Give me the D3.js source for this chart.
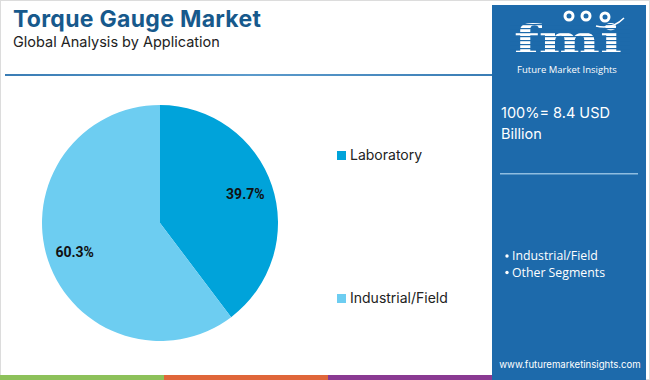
<!DOCTYPE html>
<html>
<head>
<meta charset="UTF-8">
<script src="https://d3js.org/d3.v7.min.js"></script>
<style>
  body { margin: 0; background: #fff; overflow: hidden; }
  svg { display: block; }
</style>
</head>
<body>
<svg id="chart" width="650" height="380"></svg>
<script>
const categories = ["Laboratory", "Industrial/Field"];
const shares = [39.7, 60.3];
const sliceColors = ["#00a3da", "#6dcdf1"];
const panelBullets = ["Industrial/Field", "Other Segments"];
const totalText = ["100%= 8.4 USD", "Billion"];
const stripeColors = ["#8dc15a", "#e0663a", "#8a3a92"];

const width = 650, height = 380;
const panelBlue = "#1d6aab";
const svg = d3.select("#chart");

// frame
svg.append("rect").attr("x", 0.5).attr("y", 0.5).attr("width", width - 1).attr("height", height - 1)
  .attr("fill", "#fff").attr("stroke", "#dcdcdc");

// title
svg.append("text").attr("x", 13).attr("y", 27)
  .attr("font-family", "Inter, 'Open Sans', sans-serif").attr("font-weight", 700)
  .attr("font-size", 23).attr("letter-spacing", 0.3).attr("fill", "#17598c").text("Torque Gauge Market");
svg.append("text").attr("x", 13).attr("y", 47)
  .attr("font-family", "Inter, 'Open Sans', sans-serif")
  .attr("font-size", 14.5).attr("fill", "#222").text("Global Analysis by Application");

// rule under title
const grad = svg.append("defs").append("linearGradient").attr("id", "rule");
grad.append("stop").attr("offset", "0%").attr("stop-color", "#3a7db5");
grad.append("stop").attr("offset", "50%").attr("stop-color", "#5c9bcc");
grad.append("stop").attr("offset", "100%").attr("stop-color", "#3a7db5");
svg.append("rect").attr("x", 5).attr("y", 74).attr("width", 487).attr("height", 2).attr("fill", "url(#rule)");

// pie
const cx = 160, cy = 223, r = 118;
const pie = d3.pie().sort(null).value(d => d)(shares);
const arc = d3.arc().innerRadius(0).outerRadius(r);
const labelArc = d3.arc().innerRadius(90).outerRadius(90);
const g = svg.append("g").attr("transform", `translate(${cx},${cy})`);
g.selectAll("path").data(pie).join("path")
  .attr("d", arc).attr("fill", (d, i) => sliceColors[i]);
g.selectAll("text").data(pie).join("text")
  .attr("transform", d => `translate(${labelArc.centroid(d)})`)
  .attr("text-anchor", "middle").attr("dy", "0.35em")
  .attr("font-family", "Roboto, 'Liberation Sans', sans-serif").attr("font-weight", 700)
  .attr("font-size", 14).attr("fill", "#111")
  .text(d => d.data.toFixed(1) + "%");

// legend
const legendY = d3.scalePoint().domain(categories).range([155, 298]);
const leg = svg.append("g").selectAll("g").data(categories).join("g")
  .attr("transform", d => `translate(337,${legendY(d)})`);
leg.append("rect").attr("x", 0).attr("y", -4).attr("width", 9).attr("height", 9)
  .attr("fill", (d, i) => sliceColors[i]);
leg.append("text").attr("x", 13).attr("y", 0).attr("dy", "0.35em")
  .attr("font-family", "Inter, 'Open Sans', sans-serif").attr("font-size", 14).attr("fill", "#222")
  .text(d => d);

// right panel
svg.append("rect").attr("x", 492).attr("y", 5).attr("width", 154).attr("height", 375).attr("fill", panelBlue);

// logo
const logo = svg.append("g");
logo.append("text").attr("x", 568).attr("y", 52.5).attr("text-anchor", "middle")
  .attr("font-family", "'DejaVu Serif', serif").attr("font-weight", 700)
  .attr("font-size", 40).attr("textLength", 108).attr("lengthAdjust", "spacingAndGlyphs")
  .attr("fill", "#fff").text("fmi");
for (let y = 24; y < 54; y += 4) {
  logo.append("rect").attr("x", 510).attr("y", y).attr("width", 120).attr("height", 1.2).attr("fill", panelBlue);
}
[[569, 16], [586, 16], [605, 17]].forEach(([x, y]) => {
  logo.append("circle").attr("cx", x).attr("cy", y).attr("r", 5.5).attr("fill", "#fff");
  logo.append("circle").attr("cx", x).attr("cy", y).attr("r", 2.5).attr("fill", panelBlue);
});
logo.append("path").attr("d", "M596,26 Q612,30 624,18").attr("fill", "none").attr("stroke", "#fff").attr("stroke-width", 1.5);
logo.append("text").attr("x", 567).attr("y", 72.5).attr("text-anchor", "middle")
  .attr("font-family", "'Open Sans', sans-serif").attr("font-size", 9.5).attr("fill", "#fff")
  .text("Future Market Insights");

// total
svg.append("g").selectAll("text").data(totalText).join("text")
  .attr("x", 501).attr("y", (d, i) => 118 + i * 21)
  .attr("font-family", "Inter, 'Open Sans', sans-serif").attr("font-size", 14.5).attr("fill", "#fff")
  .text(d => d);
svg.append("rect").attr("x", 500).attr("y", 173).attr("width", 138).attr("height", 1.5).attr("fill", "#8fbde0");

// bullets
const bl = svg.append("g").selectAll("g").data(panelBullets).join("g")
  .attr("transform", (d, i) => `translate(507,${256 + i * 16.5})`);
bl.append("circle").attr("cx", 0).attr("cy", 0).attr("r", 1.7).attr("fill", "#fff");
bl.append("text").attr("x", 5).attr("y", 0).attr("dy", "0.35em")
  .attr("font-family", "'Open Sans', sans-serif").attr("font-size", 12.3).attr("fill", "#fff")
  .text(d => d);

svg.append("text").attr("x", 570).attr("y", 368).attr("text-anchor", "middle")
  .attr("font-family", "Inter, 'Open Sans', sans-serif").attr("font-size", 9.6).attr("fill", "#fff")
  .text("www.futuremarketinsights.com");

// bottom colour strip
const stripeX = d3.scaleBand().domain(stripeColors).range([0, 492]);
svg.append("g").selectAll("rect").data(stripeColors).join("rect")
  .attr("x", d => stripeX(d)).attr("y", 375).attr("width", stripeX.bandwidth()).attr("height", 5)
  .attr("fill", d => d);
</script>
</body>
</html>
